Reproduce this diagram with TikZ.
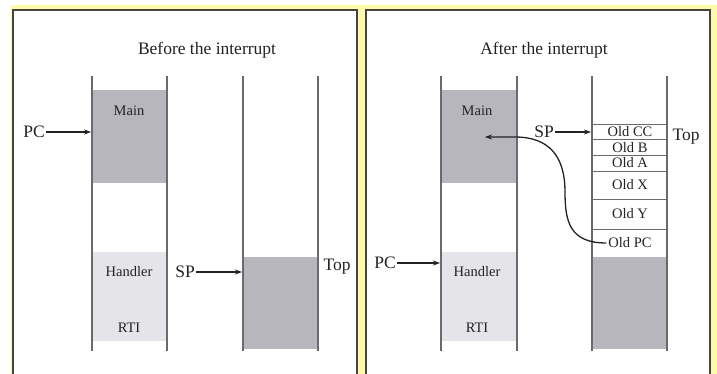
\documentclass[tikz,border=0pt]{standalone}
\usepackage{fontspec}
\setmainfont{Liberation Serif}
\usetikzlibrary{arrows.meta}
\definecolor{halo}{RGB}{255,250,170}
\definecolor{frame}{RGB}{70,70,65}
\definecolor{colline}{RGB}{105,105,110}
\definecolor{dark}{RGB}{182,182,188}
\definecolor{light}{RGB}{229,229,233}
\definecolor{ink}{RGB}{35,35,35}
\tikzset{
  panel/.style={draw=frame, line width=1.3pt},
  column/.style={draw=colline, line width=1.1pt},
  slot/.style={draw=colline, line width=0.9pt},
  title/.style={font=\fontsize{17.5}{20}\selectfont, text=ink},
  big/.style={font=\fontsize{17.5}{20}\selectfont, text=ink, inner sep=1pt},
  small/.style={font=\fontsize{14.5}{16}\selectfont, text=ink, inner sep=0pt},
  ptr/.style={draw=ink, line width=1.3pt, -{Stealth[length=7pt,width=5pt]}},
}
\begin{document}
\begin{tikzpicture}[x=1pt,y=-1pt]
\useasboundingbox (0,0) rectangle (717,374);
% soft yellow surround
\fill[halo] (11,5) rectangle (717,374);
\fill[white] (13,10) rectangle (357,374);
\fill[white] (366,10) rectangle (710,374);
\draw[panel] (13,374) -- (13,10) -- (357,10) -- (357,374);
\draw[panel] (366,374) -- (366,10) -- (710,10) -- (710,374);

% ---------- before the interrupt ----------
\node[title] (t1) at (207,50) {Before the interrupt};
\fill[dark]  (92,90) rectangle (167,183);
\fill[light] (92,252) rectangle (167,341);
\draw[column] (92,76) -- (92,351);
\draw[column] (167,76) -- (167,351);
\node[small] (main1) at (129,111) {Main};
\node[small] (hand1) at (129,272) {Handler};
\node[small] (rti1) at (129,328) {RTI};
\fill[dark] (243,257) rectangle (318,349);
\draw[column] (243,76) -- (243,351);
\draw[column] (318,76) -- (318,351);
\node[big] (top1) at (337,267) {Top};
\node[big, anchor=east] (pc1) at (46,132) {PC};
\coordinate (pc1t) at (91,132);
\draw[ptr] (pc1) -- (pc1t);
\node[big, anchor=east] (sp1) at (196,272) {SP};
\coordinate (sp1t) at (242,272);
\draw[ptr] (sp1) -- (sp1t);

% ---------- after the interrupt ----------
\node[title] (t2) at (544,50) {After the interrupt};
\fill[dark]  (441,90) rectangle (517,183);
\fill[light] (441,252) rectangle (517,341);
\draw[column] (441,76) -- (441,351);
\draw[column] (517,76) -- (517,351);
\node[small] (main2) at (477,111) {Main};
\node[small] (hand2) at (477,272) {Handler};
\node[small] (rti2) at (477,328) {RTI};
\fill[dark] (592,257) rectangle (667,349);
\foreach \y in {124,139,155,171,199,229}
  \draw[slot] (592,\y) -- (667,\y);
\draw[column] (592,76) -- (592,351);
\draw[column] (667,76) -- (667,351);
\node[small] (occ) at (630,132) {Old CC};
\node[small] (ob)  at (630,147.5) {Old B};
\node[small] (oa)  at (630,163) {Old A};
\node[small] (ox)  at (630,185) {Old X};
\node[small] (oy)  at (630,214) {Old Y};
\node[small, inner sep=2pt] (opc) at (630,243) {Old PC};
\node[big] (top2) at (686,137) {Top};
\node[big, anchor=east] (pc2) at (397,263) {PC};
\coordinate (pc2t) at (440,263);
\draw[ptr] (pc2) -- (pc2t);
\node[big, anchor=east] (sp2) at (555,132) {SP};
\coordinate (sp2t) at (591,132);
\draw[ptr] (sp2) -- (sp2t);
% return address points back into Main
\coordinate (ret) at (485,137);
\draw[ptr] (opc.west) .. controls (570,243) and (565,222) .. (565,192)
  .. controls (565,155) and (548,137) .. (515,137) -- (ret);
\end{tikzpicture}
\end{document}
